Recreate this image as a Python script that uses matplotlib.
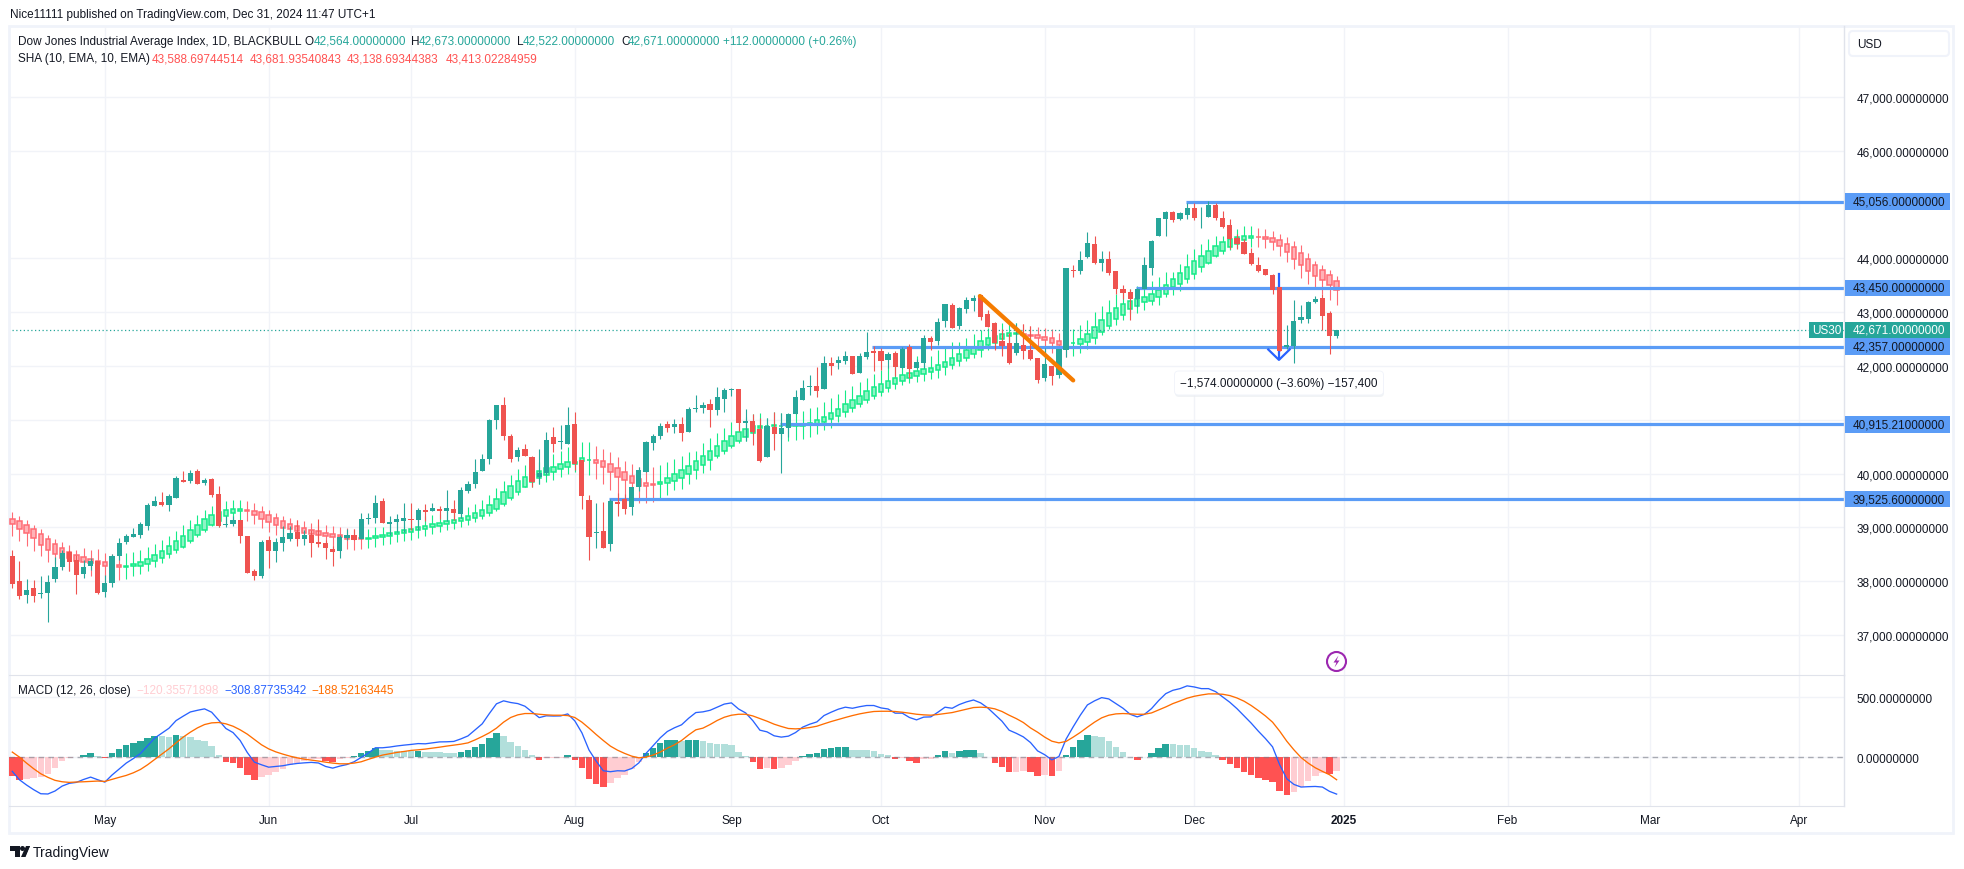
# Dow Jones daily chart with SHA overlay and MACD pane
import numpy as np
import matplotlib
matplotlib.use('Agg')
import matplotlib.pyplot as plt
from matplotlib.patches import Rectangle, FancyBboxPatch, Circle, Polygon

W, H = 1964, 870
plt.rcParams['font.family'] = ['Liberation Sans', 'DejaVu Sans']

# candles
opens = [38467,38002,37741,37872,37766,37779,38039,38262,38541,38392,
    38132,38281,38374,37797,37965,38467,38727,38820,38857,39025,
    39397,39471,39415,39546,39880,39862,40048,39825,39899,39620,
    39050,39062,39136,38839,38188,38095,38764,38560,38709,38783,
    38913,38783,38857,38727,38709,38597,38560,38802,38857,38783,
    39161,39174,39490,39062,39099,39118,39155,39136,39322,39304,
    39341,39304,39341,39248,39676,39806,40056,40279,40986,41283,
    40707,40316,40465,40298,39944,40019,40688,40583,40558,40930,
    40260,39516,38890,38940,38698,39479,39535,39386,39758,40037,
    40560,40690,40913,40857,40913,40764,41205,41211,41285,41174,
    41378,41552,41564,40932,40969,40820,40299,40857,40727,40839,
    41099,41360,41608,41620,41564,42048,42048,42085,42178,41862,
    42159,42271,42271,42104,42234,41955,42345,41955,42048,42513,
    42457,42829,43127,42736,43052,43201,43313,42959,42792,42457,
    42420,42234,42383,42290,42141,41769,41992,41825,42290,43778,
    43759,44019,44261,43918,43992,43769,43434,43378,43248,43434,
    43825,44420,44736,44866,44736,44810,44941,44761,44773,44996,
    44755,44624,44383,44308,44104,43880,43806,43694,43471,42361,
    42374,42857,42876,43192,43267,42988,42564]
highs = [38578,38374,38039,38020,38095,38113,38454,38578,38578,38485,
    38392,38423,38374,38113,38504,38795,38876,38981,39105,39453,
    39583,39657,39620,39955,40048,40066,40085,39918,39918,39769,
    39211,39211,39136,38839,38225,38764,38839,38802,39025,39025,
    39136,38950,38950,39155,38764,38653,38857,38969,38969,39267,
    39267,39601,39546,39211,39248,39453,39453,39360,39434,39453,
    39397,39694,39508,39750,39862,40271,40372,41023,41283,41414,
    40744,40502,40558,40335,40465,40781,40856,40911,41246,41135,
    40260,39609,39461,39479,39535,39647,39628,39758,40130,40614,
    40727,40932,40969,41006,41043,41229,41453,41322,41378,41601,
    41583,41583,41564,41192,41099,41025,41025,41136,41118,41118,
    41546,41732,41825,41973,42178,42159,42178,42271,42178,42234,
    42624,42364,42327,42252,42271,42345,42401,42122,42569,42550,
    42885,43145,43164,43089,43275,43313,43313,43034,42810,42680,
    42606,42792,42773,42736,42141,42327,41992,42308,43815,43871,
    44131,44484,44410,44141,44141,43769,43508,43434,43453,44029,
    44345,44755,44885,44885,44866,45034,45034,44959,45071,45034,
    44885,44736,44457,44364,44197,44029,43806,43713,43471,42764,
    43229,43136,43211,43304,43341,43025,42673]
lows = [37872,37667,37593,37611,37686,37239,37989,38206,38188,37760,
    38058,38206,37760,37704,37890,38392,38690,38820,38802,38950,
    39397,39397,39304,39546,39843,39825,39806,39787,39564,39006,
    39006,39025,38709,38151,38020,38058,38244,38355,38560,38746,
    38653,38671,38448,38634,38411,38281,38430,38764,38764,38783,
    39062,39081,39081,38857,38913,38913,38950,38950,39118,39304,
    39155,39118,39136,39174,39639,39732,40056,40186,40837,40632,
    40223,40242,40335,39758,39814,39981,40409,40465,40558,40074,
    39349,38400,38624,38624,38568,39219,39256,39237,39684,40037,
    40430,40634,40764,40746,40597,40764,41136,41118,40857,41081,
    41136,41446,40783,40597,40523,40206,40299,40430,40002,40671,
    41099,41360,41453,41415,41564,41825,41936,42029,41843,41862,
    42122,41899,41918,41955,41806,41955,41769,41955,41955,42290,
    42383,42717,42699,42680,42978,43015,42848,42717,42290,42178,
    42029,42197,42122,42104,41676,41713,41639,41769,42159,43647,
    43703,44001,43889,43769,43694,43341,43248,42857,43099,43434,
    43694,44420,44420,44680,44717,44736,44717,44569,44773,44717,
    44569,44178,44178,44085,43880,43750,43694,43341,42281,42318,
    42058,42802,42802,43174,42671,42225,42522]
closes = [37946,37723,37834,37723,37779,37983,38262,38523,38355,38113,
    38262,38374,37779,37965,38467,38709,38839,38876,39062,39415,
    39490,39415,39583,39918,39843,40011,39806,39880,39601,39025,
    39062,39136,38839,38151,38095,38727,38560,38727,38820,38895,
    38783,38857,38709,38690,38616,38541,38820,38857,38764,39155,
    39174,39453,39081,39099,39155,39174,39143,39322,39285,39360,
    39304,39360,39267,39694,39806,40029,40279,40986,41283,40707,
    40279,40446,40335,39851,40019,40632,40558,40595,40893,40186,
    39591,38828,38903,38624,39498,39442,39349,39758,40074,40595,
    40690,40876,40839,40913,40746,41192,41223,41267,41174,41415,
    41546,41564,40932,40969,40764,40225,40876,40727,40839,41099,
    41415,41583,41620,41527,42048,41992,42104,42178,41843,42178,
    42252,42234,42085,42215,41973,42308,41936,42066,42513,42438,
    42810,43145,42699,43071,43220,43257,42903,42717,42420,42364,
    42048,42420,42271,42122,41732,42029,41806,42308,43815,43765,
    43964,44280,43908,43992,43732,43434,43360,43248,43434,43880,
    44327,44755,44866,44717,44848,44941,44755,44773,44996,44755,
    44587,44364,44271,44085,43899,43769,43694,43415,42281,42386,
    42839,42913,43192,43248,42932,42560,42671]

# smoothed heikin ashi overlay
sha_open = [39155,39112,39037,38963,38870,38777,38684,38609,38535,38479,
    38442,38405,38380,38349,38324,38299,38268,38275,38287,38324,
    38368,38423,38498,38572,38640,38740,38851,38944,39037,39120,
    39205,39260,39298,39316,39298,39279,39223,39167,39112,39056,
    39019,38981,38944,38926,38888,38870,38851,38833,38814,38808,
    38783,38795,38814,38833,38870,38888,38907,38944,38963,39000,
    39019,39056,39074,39120,39138,39175,39213,39268,39343,39436,
    39547,39659,39752,39839,39919,39975,40031,40087,40124,40180,
    40242,40248,40254,40236,40180,40105,40031,39957,39901,39826,
    39808,39808,39826,39864,39919,39994,40070,40163,40256,40330,
    40423,40516,40609,40684,40758,40851,40876,40876,40876,40876,
    40876,40876,40895,40913,40950,41006,41062,41149,41223,41298,
    41372,41446,41521,41595,41670,41725,41781,41818,41856,41893,
    41930,41986,42023,42097,42153,42228,42302,42383,42432,42507,
    42556,42593,42600,42581,42581,42544,42525,42469,42432,42420,
    42414,42451,42525,42640,42752,42864,42950,43050,43118,43180,
    43211,43273,43347,43465,43521,43608,43707,43837,43918,44042,
    44135,44209,44277,44339,44376,44401,44395,44376,44339,44277,
    44209,44104,43992,43880,43781,43688,43589]
sha_close = [39056,38975,38888,38795,38678,38585,38510,38436,38423,38374,
    38361,38343,38318,38287,38275,38268,38281,38312,38349,38405,
    38479,38554,38647,38740,38833,38944,39037,39149,39223,39285,
    39316,39335,39335,39304,39236,39161,39105,39050,38994,38963,
    38938,38901,38882,38857,38845,38826,38814,38789,38789,38789,
    38795,38833,38851,38888,38907,38944,38963,39000,39019,39056,
    39074,39112,39130,39175,39213,39268,39324,39417,39529,39659,
    39771,39864,39938,40012,40050,40112,40124,40180,40217,40223,
    40291,40260,40198,40124,40031,39938,39882,39826,39764,39770,
    39795,39845,39919,39994,40068,40143,40237,40330,40423,40516,
    40609,40702,40777,40833,40882,40888,40888,40895,40888,40913,
    40913,40926,40944,41000,41056,41130,41205,41298,41372,41446,
    41539,41614,41670,41725,41781,41837,41874,41911,41936,41967,
    42023,42079,42153,42228,42302,42352,42469,42525,42556,42600,
    42606,42606,42569,42562,42519,42482,42432,42395,42420,42432,
    42507,42600,42730,42851,42981,43074,43149,43205,43248,43279,
    43335,43415,43502,43620,43725,43837,43949,44042,44135,44228,
    44302,44364,44389,44414,44414,44389,44352,44314,44228,44116,
    43992,43868,43763,43670,43595,43502,43413]
sha_high = [39285,39211,39136,39043,38969,38857,38783,38727,38671,38578,
    38616,38578,38591,38523,38504,38485,38523,38541,38578,38628,
    38690,38764,38839,38932,39043,39136,39229,39322,39397,39458,
    39490,39508,39508,39490,39453,39397,39322,39267,39211,39174,
    39136,39118,39081,39043,39043,39025,39006,38988,38969,38950,
    38969,39006,39006,39081,39118,39136,39155,39211,39211,39229,
    39248,39304,39304,39340,39386,39442,39516,39609,39740,39870,
    39981,40093,40167,40223,40205,40372,40372,40428,40484,40577,
    40577,40577,40521,40465,40391,40316,40242,40186,40130,40112,
    40130,40167,40205,40279,40335,40409,40411,40572,40653,40746,
    40839,40950,41043,41056,41099,41118,41025,41136,41118,41099,
    41118,41155,41211,41229,41322,41397,41471,41546,41620,41694,
    41769,41843,41918,41973,42048,42085,42141,42178,42197,42178,
    42290,42327,42438,42438,42513,42587,42662,42699,42792,42792,
    42810,42792,42773,42736,42717,42699,42680,42606,42494,42680,
    42755,42848,42996,43118,43229,43341,43397,43434,43490,43546,
    43583,43651,43750,43750,43899,44085,44178,44271,44364,44420,
    44420,44550,44550,44606,44606,44569,44550,44513,44457,44401,
    44327,44252,44104,43955,43880,43787,43682]
sha_low = [38839,38746,38653,38560,38467,38355,38318,38225,38188,38206,
    38188,38095,38051,38020,38020,38020,38039,38095,38132,38188,
    38262,38337,38430,38523,38616,38709,38814,38907,39019,39000,
    39050,39136,39136,39118,39062,38988,38913,38857,38820,38783,
    38764,38727,38690,38653,38578,38541,38560,38597,38578,38597,
    38616,38634,38671,38690,38727,38746,38764,38802,38839,38876,
    38913,38950,38969,39014,39051,39107,39163,39219,39306,39399,
    39510,39603,39752,39758,39814,39851,39888,39944,40000,40037,
    40000,39981,39907,39814,39702,39572,39516,39479,39461,39461,
    39479,39554,39609,39702,39721,39808,39903,40014,40070,40293,
    40368,40479,40572,40597,40727,40634,40634,40653,40634,40597,
    40616,40634,40671,40727,40802,40839,40950,41043,41136,41229,
    41304,41378,41434,41508,41564,41639,41676,41694,41713,41750,
    41769,41825,41936,41992,42085,42141,42159,42290,42308,42290,
    42308,42345,42308,42308,42271,42234,42234,42215,42159,42178,
    42234,42308,42401,42578,42690,42764,42857,42969,42988,43043,
    43136,43136,43285,43322,43397,43546,43620,43750,43899,44029,
    44085,44159,44197,44197,44215,44215,44197,44159,44048,43936,
    43806,43639,43527,43434,43341,43229,43139]

# MACD pane
hist = [-161,-189,-183,-175,-167,-139,-89,-36,-8,-3,
    19,36,11,-6,36,69,103,119,133,158,
    178,175,172,186,175,169,147,131,89,19,
    -39,-53,-89,-153,-189,-167,-153,-122,-97,-69,
    -47,-31,-19,-16,-36,-42,-19,-6,11,36,
    53,78,61,56,54,53,50,52,44,44,
    44,36,31,44,58,83,106,161,203,178,
    125,94,61,14,-28,-8,-7,-6,14,-28,
    -89,-183,-222,-253,-214,-172,-147,-103,-42,31,
    78,119,139,142,131,139,144,136,119,111,
    110,103,44,11,-39,-97,-89,-97,-89,-64,
    -31,11,28,36,69,78,86,87,61,60,
    59,50,28,19,-14,-8,-36,-47,-19,-14,
    19,53,36,53,61,63,36,-3,-47,-81,
    -125,-123,-120,-122,-156,-147,-156,-114,19,86,
    144,186,178,169,136,86,44,-3,-22,-1,
    36,78,111,110,103,102,78,53,44,19,
    -22,-56,-89,-122,-147,-172,-189,-206,-281,-314,
    -289,-247,-197,-156,-131,-139,-120]
macd = [-119,-189,-233,-272,-306,-308,-283,-242,-219,-211,
    -187,-167,-189,-209,-150,-100,-50,-12,30,94,
    159,200,241,305,342,377,391,403,375,308,
    239,205,139,39,-42,-64,-84,-78,-72,-61,
    -53,-48,-44,-49,-78,-92,-75,-62,-39,-3,
    34,78,78,84,93,100,106,113,111,119,
    127,128,131,152,177,227,278,364,445,470,
    456,447,425,378,330,345,343,344,361,303,
    203,59,-33,-114,-122,-114,-116,-95,-48,31,
    95,161,214,245,270,325,372,378,391,417,
    443,453,402,369,305,225,211,178,167,175,
    205,250,275,294,347,375,400,417,408,421,
    431,431,411,402,367,367,331,311,334,336,
    375,417,408,439,461,477,453,411,356,300,
    225,199,169,122,52,20,-23,5,150,253,
    350,436,470,497,486,447,408,358,336,357,
    405,472,530,558,572,595,586,572,572,547,
    503,458,405,345,284,217,155,86,-64,-181,
    -228,-250,-247,-245,-250,-286,-309]
signal = [42,0,-50,-97,-139,-169,-194,-206,-211,-208,
    -206,-203,-200,-203,-186,-169,-153,-131,-103,-64,
    -19,25,69,119,167,208,244,272,286,289,
    278,258,228,192,147,103,69,44,25,8,
    -6,-17,-25,-33,-42,-50,-56,-56,-50,-39,
    -19,0,17,28,39,47,56,61,67,75,
    83,92,100,108,119,144,172,203,242,292,
    331,353,364,364,358,353,350,350,347,331,
    292,242,189,139,92,58,31,8,-6,0,
    17,42,75,103,139,186,228,242,272,306,
    333,350,358,358,344,322,300,275,256,239,
    236,239,247,258,278,297,314,331,347,361,
    372,381,383,383,381,375,367,358,353,350,
    356,364,372,386,400,414,417,414,403,381,
    350,322,289,244,208,167,133,119,131,167,
    206,250,292,328,350,361,364,361,358,358,
    369,394,419,447,469,492,508,519,528,528,
    525,514,494,467,431,389,344,292,217,133,
    61,-3,-50,-89,-119,-147,-189]

price_ticks = [47000,46000,44000,43000,42000,41000,40000,39000,38000,37000]
macd_ticks = [500, 0]
month_labels = ['May','Jun','Jul','Aug','Sep','Oct','Nov','Dec','2025','Feb','Mar','Apr']
month_pos = [13,36,56,79,101,122,145,166,187,210,230,251]

# horizontal levels: price, first bar
level_prices = [45056.0, 43450.0, 42357.0, 40915.21, 39525.6]
level_starts = [164.8, 157.8, 120.8, 107.8, 83.8]
trend_x = [135.9, 149.0]
trend_y = [43300, 41732]
last_price = 42671.0

UP, DOWN = '#26A69A', '#EF5350'
SHA_UP_E, SHA_UP_F = '#14EB87', '#8FF3C5'
SHA_DN_E, SHA_DN_F = '#FF6B74', '#FFB2B7'
BLUE = '#5B9CF6'
TXT = '#131722'
GRID = '#F1F3F8'
LINE = '#E0E3EB'
FS = 8.5

def px_axes(left, top, right, bottom):
    return fig.add_axes([left / W, 1 - bottom / H, (right - left) / W, (bottom - top) / H])

fig = plt.figure(figsize=(W / 100, H / 100), dpi=100, facecolor='white')

# overlay-free background frame in pixel coordinates
bg = fig.add_axes([0, 0, 1, 1], zorder=0)
bg.set_xlim(0, W)
bg.set_ylim(H, 0)
bg.axis('off')
bg.add_patch(Rectangle((9, 27), 1944, 807, fc='white', ec='#F0F3FA', lw=2))

ax = px_axes(9, 27, 1844, 676)
ax2 = px_axes(9, 676, 1844, 807)
x = np.arange(len(closes))
for a in (ax, ax2):
    a.set_facecolor('none')
    a.set_xlim((9 - 12.3) / 7.12, (1844 - 12.3) / 7.12)
    a.set_xticks(month_pos)
    a.grid(True, color=GRID, lw=1)
    a.set_axisbelow(True)
    a.yaxis.tick_right()
    a.tick_params(length=0, labelsize=FS, labelcolor=TXT)
    for s in ('top', 'left', 'bottom'):
        a.spines[s].set_visible(False)
    a.spines['right'].set_color(LINE)
    a.spines['right'].set_linewidth(1)

ax.set_ylim(47000 - 577.5 / 0.05374, 47000 + 71 / 0.05374)
ax.set_yticks(price_ticks)
ax.set_yticklabels([f'{p:,.8f}' for p in price_ticks])
ax.tick_params(axis='y', pad=9)
ax.tick_params(axis='x', labelbottom=False)

ax2.set_ylim(-49 / 0.12, 82.3 / 0.12)
ax2.set_yticks(macd_ticks)
ax2.set_yticklabels([f'{m:.8f}' for m in macd_ticks])
ax2.tick_params(axis='y', pad=9)
ax2.set_xticks(month_pos)
ax2.set_xticklabels(month_labels)
ax2.tick_params(axis='x', pad=6)
ax2.get_xticklabels()[8].set_fontweight('bold')
ax2.spines['top'].set_visible(True)
ax2.spines['top'].set_color(LINE)
ax2.spines['bottom'].set_visible(True)
ax2.spines['bottom'].set_color(LINE)

# SHA first, the price candles sit on top of it
sha_o, sha_c = np.array(sha_open), np.array(sha_close)
sha_up = sha_c >= sha_o
ax.vlines(x, sha_low, sha_high, colors=np.where(sha_up, SHA_UP_E, SHA_DN_E), lw=0.8, zorder=2)
ax.bar(x, np.abs(sha_c - sha_o), bottom=np.minimum(sha_o, sha_c), width=0.62,
       color=np.where(sha_up, SHA_UP_F, SHA_DN_F), edgecolor=np.where(sha_up, SHA_UP_E, SHA_DN_E),
       lw=1.1, zorder=2.1)

# levels and measure arrow go under the candles
for p, s in zip(level_prices, level_starts):
    ax.plot([s, 300], [p, p], color=BLUE, lw=2.3, solid_capstyle='butt', zorder=2.5)
ax.plot([177.9, 177.9], [43713, 42139], color='#2962FF', lw=1.6, zorder=2.6)
ax.plot([176.4, 177.9, 179.4], [42306, 42113, 42306], color='#2962FF', lw=1.6, zorder=2.6)
ax.plot([0, 258], [last_price, last_price], color=UP, lw=0.9, ls=(0, (1, 2)), zorder=2.7)

o, c = np.array(opens), np.array(closes)
up = c >= o
ax.vlines(x, lows, highs, colors=np.where(up, UP, DOWN), lw=0.8, zorder=3)
ax.bar(x, np.maximum(np.abs(c - o), 14), bottom=np.minimum(o, c), width=0.72,
       color=np.where(up, UP, DOWN), lw=0, zorder=3.1)

ax.plot(trend_x, trend_y, color='#F57C00', lw=3.1, solid_capstyle='round', zorder=4)

# price scale tags
tag_t = ax.get_yaxis_transform()
tag_h = 16.7 / 0.05374
tag_w = 105 / 1835
for p in level_prices + [last_price]:
    col = UP if p == last_price else BLUE
    ax.add_patch(Rectangle((1.0006, p - tag_h / 2), tag_w, tag_h, transform=tag_t, fc=col, ec='none',
                           clip_on=False, zorder=6))
for p in level_prices:
    ax.text(1.0047, p, f'{p:,.8f}', transform=tag_t, va='center', ha='left', fontsize=FS, color=TXT, zorder=7)
ax.text(1.0047, last_price, f'{last_price:,.8f}', transform=tag_t, va='center', ha='left', fontsize=FS,
        color='white', zorder=7)
ax.add_patch(FancyBboxPatch((1 - 35 / 1835, last_price - tag_h / 2), 35 / 1835 - 0.0004, tag_h,
                            boxstyle='square,pad=0', transform=tag_t, fc=UP, ec='none', zorder=6, clip_on=False))
ax.text(1 - 17.5 / 1835, last_price, 'US30', transform=tag_t, ha='center', va='center', fontsize=FS,
        color='white', zorder=7)

# MACD histogram colours follow the TradingView rule (growing = strong)
hist_a = np.array(hist)
prev = np.r_[hist_a[0] + 1, hist_a[:-1]]
hcol = np.where(hist_a >= 0, np.where(hist_a > prev, UP, '#B2DFDB'),
                np.where(hist_a < prev, '#FF5252', '#FFCDD2'))
hcol[0] = '#FF5252'
ax2.bar(x, hist, width=0.92, color=hcol, lw=0, zorder=2)
ax2.plot(x, macd, color='#2962FF', lw=0.95, zorder=3)
ax2.plot(x, signal, color='#FF6D00', lw=0.95, zorder=3.1)
ax2.axhline(0, color='#787B86', alpha=0.6, lw=1, ls=(0, (4, 3)), zorder=2.5)

# texts and furniture in pixel coordinates
top = fig.add_axes([0, 0, 1, 1], zorder=10)
top.set_xlim(0, W)
top.set_ylim(H, 0)
top.axis('off')
top.patch.set_alpha(0)

def put(px, py, s, color=TXT, fs=FS, **kw):
    return top.text(px, py, s, color=color, fontsize=fs, va='center', ha=kw.pop('ha', 'left'), **kw)

put(10, 15, 'Nice11111 published on TradingView.com, Dec 31, 2024 11:47 UTC+1')
put(18, 42, 'Dow Jones Industrial Average Index, 1D, BLACKBULL')
for lab, lx, val, vx in [('O', 305, '42,564.00000000', 313.5), ('H', 411, '42,673.00000000', 419),
                         ('L', 517, '42,522.00000000', 523), ('C', 621, '42,671.00000000', 628)]:
    put(lx, 42, lab)
    put(vx, 42, val, color=UP)
put(723, 42, '+112.00000000 (+0.26%)', color=UP)
put(18, 59, 'SHA (10, EMA, 10, EMA)')
for vx, val in [(151.5, '43,588.69744514'), (249.6, '43,681.93540843'), (347, '43,138.69344383'),
                (445.3, '43,413.02284959')]:
    put(vx, 59, val, color='#FF5252')
put(18, 691, 'MACD (12, 26, close)')
put(136, 691, '\u2212120.35571898', color='#FFCDD2')
put(224, 691, '\u2212308.87735342', color='#2962FF')
put(311, 691, '\u2212188.52163445', color='#FF6D00')

# USD box
top.add_patch(FancyBboxPatch((1849, 32), 100, 25, boxstyle='round,pad=0,rounding_size=4', fc='white',
                             ec='#F0F3FA', lw=1.5))
put(1857, 45, 'USD')

# measure tooltip with a soft shadow
top.add_patch(FancyBboxPatch((1175, 374), 209, 24, boxstyle='round,pad=0,rounding_size=4', fc='#ECEEF2',
                             ec='none', alpha=0.7))
top.add_patch(FancyBboxPatch((1174.5, 372), 209, 24, boxstyle='round,pad=0,rounding_size=4', fc='white',
                             ec='#F0F3FA', lw=0.6))
put(1279, 384, '\u22121,574.00000000 (\u22123.60%) \u2212157,400', ha='center')

# flash icon
top.add_patch(Circle((1336.5, 662.5), 9.5, fc='white', ec='#9C27B0', lw=1.5))
top.add_patch(Polygon([(1338.5, 656.5), (1333.5, 663.5), (1336.5, 663.5), (1334.5, 668.5), (1339.5, 661.5),
                       (1336.5, 661.5)], fc='#9C27B0', ec='none'))

# TradingView logo
top.add_patch(Polygon([(10, 847), (20, 847), (20, 858), (15, 858), (15, 852), (10, 852)], fc=TXT, ec='none'))
top.add_patch(Circle((22.5, 849.5), 2.5, fc=TXT, ec='none'))
top.add_patch(Polygon([(24, 858), (29, 847), (30, 847), (30, 847), (25, 858)], fc=TXT, ec='none', lw=0))
top.add_patch(Polygon([(26, 847), (30, 847), (25.5, 858), (21, 858)], fc=TXT, ec='none'))
put(33, 853, 'TradingView', fs=10)

fig.savefig('out.png', dpi=100, facecolor='white')
